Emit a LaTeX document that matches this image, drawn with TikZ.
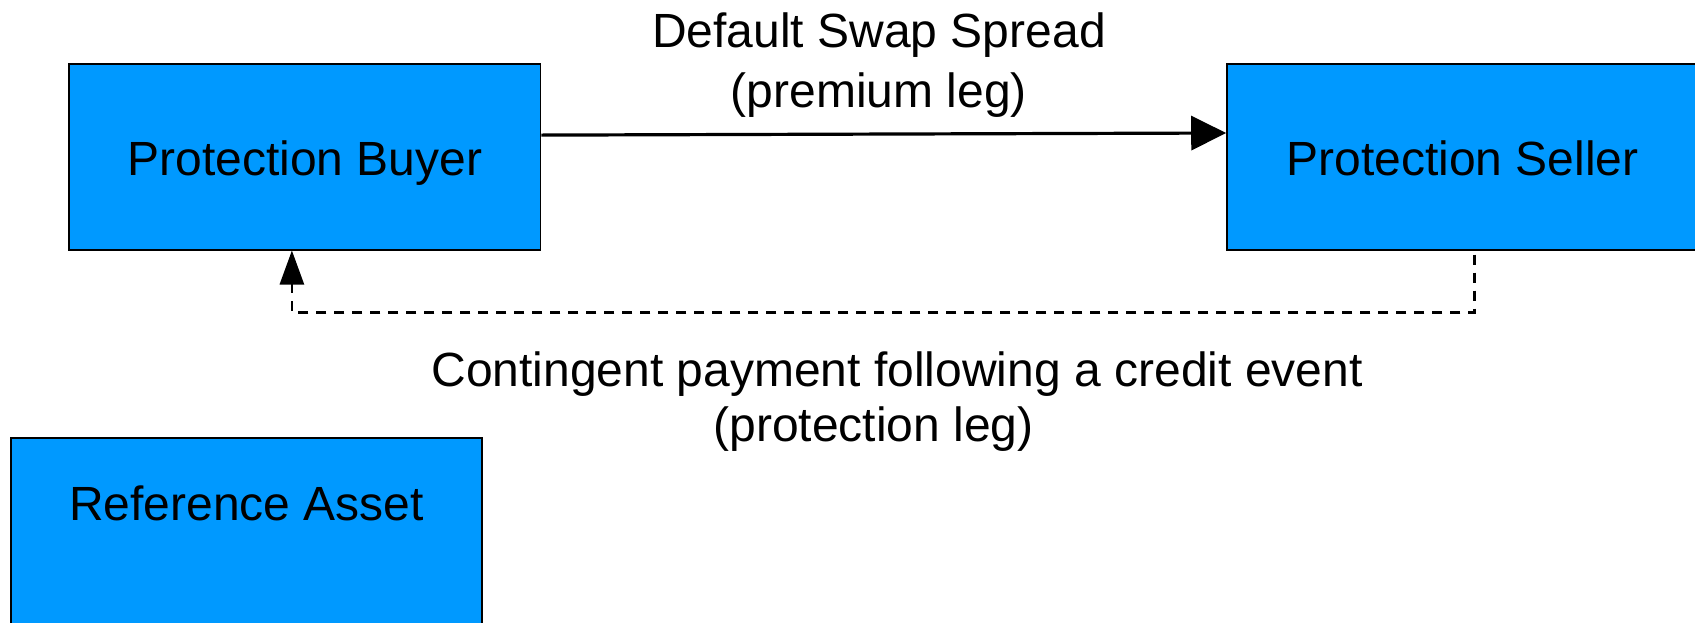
\documentclass[tikz,border=0pt]{standalone}
\usepackage{fontspec}
\setmainfont{Liberation Sans}
\usetikzlibrary{arrows.meta,calc}
\definecolor{partyblue}{HTML}{0099FF}
\begin{document}
\begin{tikzpicture}[x=1pt,y=1pt,
  party/.style={draw=black,line width=1.6pt,fill=partyblue,inner sep=0pt,
    minimum width=471.3pt,minimum height=185.9pt,
    text height=40pt,text depth=2.5pt,
    font=\fontsize{48}{60}\selectfont},
  lbl/.style={inner sep=0pt,align=center,font=\fontsize{48}{60}\selectfont},
  flow/.style={line width=3.2pt,-{Triangle[length=35pt,width=34pt]}},
  contingent/.style={line width=2.7pt,dash pattern=on 10pt off 8pt,
    -{Triangle[length=34pt,width=24pt]}}]
  \useasboundingbox (0,0) rectangle (1695,-622);
  \clip (0,0) rectangle (1695,-622);

  % counterparties
  \node[party] (buyer)  at (304.85,-156.75) {Protection Buyer};
  \node[party] (seller) at (1462.65,-156.75) {Protection Seller};

  % underlying asset box with its caption set high
  \node[party] (asset) at (246.45,-530.75) {};
  \node[lbl] (assetText) at (246.5,-503.7) {Reference Asset};

  % premium leg
  \draw[flow] ([yshift=21.65pt]buyer.east) -- ([yshift=23.75pt]seller.west);
  \node[lbl] (premium) at (879,-65.5) {Default Swap Spread\\(premium leg)};

  % protection leg
  \coordinate (turn) at (1474.5,-312.4);
  \draw[contingent,shorten <=4pt] ([xshift=11.85pt]seller.south) -- (turn)
    -| ([xshift=-12.95pt]buyer.south);
  \node[lbl] (protA) at (897,-373.7) {Contingent payment following a credit event};
  \node[lbl] (protB) at (873.5,-428.8) {(protection leg)};
\end{tikzpicture}
\end{document}
